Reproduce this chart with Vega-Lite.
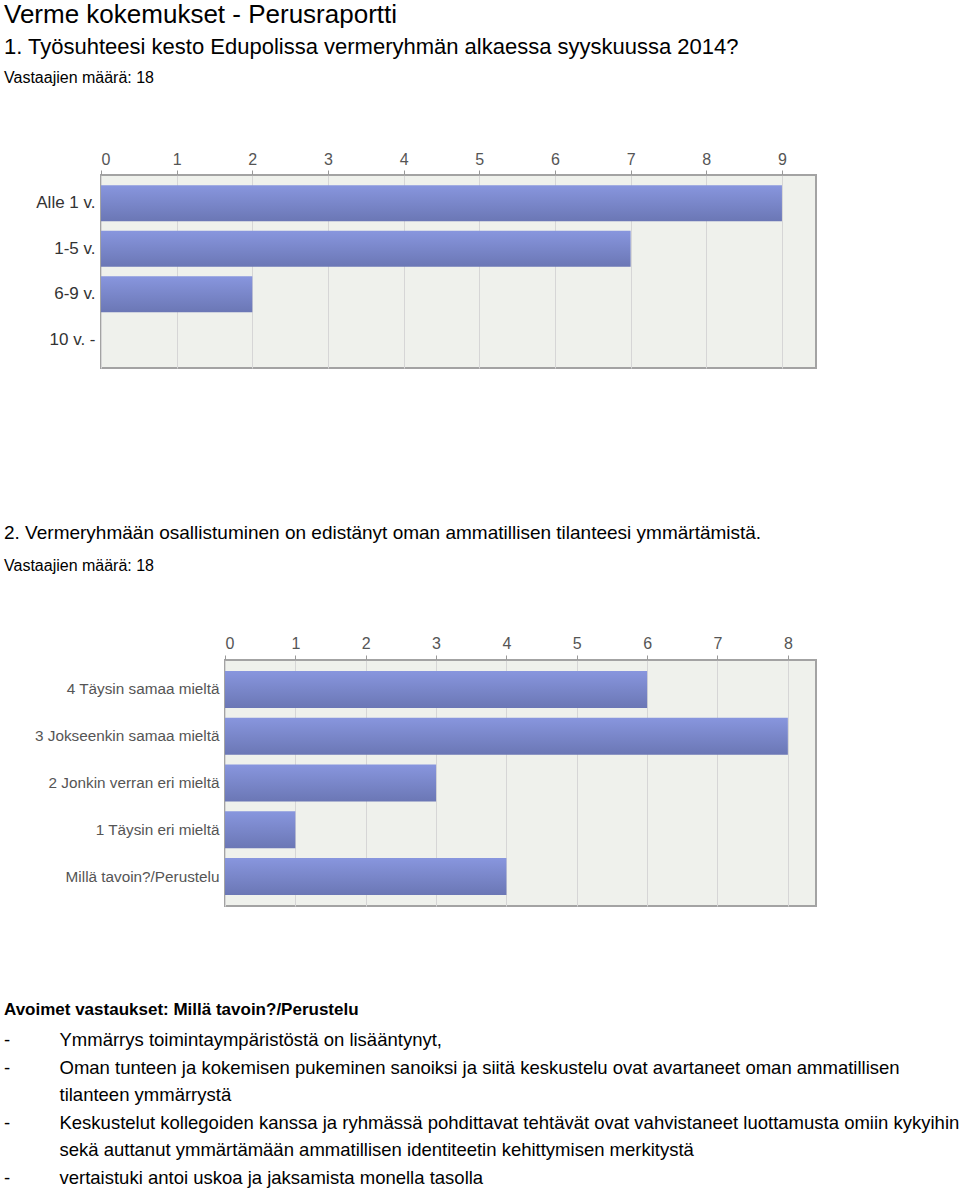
{
  "$schema": "https://vega.github.io/schema/vega-lite/v6.json",
  "background": "white",
  "padding": {"left": 3, "top": 2, "right": 0, "bottom": 0},
  "bounds": "flush",
  "spacing": 292,
  "title": {
    "text": "Verme kokemukset - Perusraportti",
    "anchor": "start",
    "frame": "group",
    "dx": -97,
    "fontSize": 26,
    "fontWeight": "normal",
    "color": "#000",
    "offset": 7
  },
  "config": {
    "font": "Liberation Sans",
    "view": {"stroke": "#a3a3a3", "strokeWidth": 2},
    "title": {"font": "Liberation Sans", "subtitleFont": "Liberation Sans", "color": "#000", "subtitleColor": "#000"},
    "axis": {"labelFont": "Liberation Sans"}
  },
  "vconcat": [
    {
      "width": 715,
      "height": 193,
      "title": {
        "text": "1. Työsuhteesi kesto Edupolissa vermeryhmän alkaessa syyskuussa 2014?",
        "subtitle": "Vastaajien määrä: 18",
        "anchor": "start",
        "frame": "group",
        "dx": -97,
        "fontSize": 22,
        "fontWeight": "normal",
        "subtitleFontSize": 16,
        "subtitlePadding": 11,
        "offset": 64
      },
      "view": {"fill": "#eff1ec", "stroke": "#a3a3a3", "strokeWidth": 2},
      "data": {"values": [
        {"vastaus": "Alle 1 v.", "lkm": 9},
        {"vastaus": "1-5 v.", "lkm": 7},
        {"vastaus": "6-9 v.", "lkm": 2},
        {"vastaus": "10 v. -", "lkm": 0}
      ]},
      "mark": {
        "type": "bar",
        "color": {"gradient": "linear", "x1": 0, "y1": 0, "x2": 0, "y2": 1,
          "stops": [{"offset": 0, "color": "#8896de"}, {"offset": 1, "color": "#6b77b5"}]}
      },
      "encoding": {
        "y": {
          "field": "vastaus", "type": "nominal", "sort": null,
          "scale": {"paddingInner": 0.21, "paddingOuter": 0.225},
          "axis": {"title": null, "ticks": false, "domain": false, "labelFontSize": 17, "labelColor": "#333", "labelPadding": 6, "labelLimit": 300}
        },
        "x": {
          "field": "lkm", "type": "quantitative",
          "scale": {"domain": [0, 9.45], "nice": false},
          "axis": {"orient": "top", "values": [0, 1, 2, 3, 4, 5, 6, 7, 8, 9], "title": null, "grid": true, "gridColor": "#d6d6d6", "domain": false, "tickColor": "#999", "tickSize": 5, "labelFontSize": 16, "labelColor": "#555", "labelPadding": 3}
        }
      }
    },
    {
      "bounds": "flush",
      "spacing": 20,
      "title": {
        "text": "Avoimet vastaukset: Millä tavoin?/Perustelu",
        "subtitle": [
          "-\u2003\u2003\u2002\u2006Ymmärrys toimintaympäristöstä on lisääntynyt,",
          "-\u2003\u2003\u2002\u2006Oman tunteen ja kokemisen pukeminen sanoiksi ja siitä keskustelu ovat avartaneet oman ammatillisen",
          "\u200B\u2003\u2003\u2003tilanteen ymmärrystä",
          "-\u2003\u2003\u2002\u2006Keskustelut kollegoiden kanssa ja ryhmässä pohdittavat tehtävät ovat vahvistaneet luottamusta omiin kykyihin",
          "\u200B\u2003\u2003\u2003sekä auttanut ymmärtämään ammatillisen identiteetin kehittymisen merkitystä",
          "-\u2003\u2003\u2002\u2006vertaistuki antoi uskoa ja jaksamista monella tasolla"
        ],
        "orient": "bottom",
        "anchor": "start",
        "frame": "group",
        "dx": -97,
        "fontSize": 17,
        "fontWeight": "bold",
        "subtitleFontSize": 18.5,
        "subtitleLineHeight": 27.6,
        "subtitlePadding": 12,
        "offset": 95
      },
      "hconcat": [
        {
          "width": 104,
          "height": 246,
          "view": {"stroke": null, "fill": null},
          "data": {"values": []},
          "mark": {"type": "point"},
          "encoding": {}
        },
        {
          "width": 591,
          "height": 246,
          "title": {
            "text": "2. Vermeryhmään osallistuminen on edistänyt oman ammatillisen tilanteesi ymmärtämistä.",
            "subtitle": "Vastaajien määrä: 18",
            "anchor": "start",
            "frame": "group",
            "dx": -221,
            "fontSize": 19,
            "fontWeight": "normal",
            "subtitleFontSize": 16,
            "subtitlePadding": 15,
            "offset": 61
          },
          "view": {"fill": "#eff1ec", "stroke": "#a3a3a3", "strokeWidth": 2},
          "data": {"values": [
            {"vastaus": "4 Täysin samaa mieltä", "lkm": 6},
            {"vastaus": "3 Jokseenkin samaa mieltä", "lkm": 8},
            {"vastaus": "2 Jonkin verran eri mieltä", "lkm": 3},
            {"vastaus": "1 Täysin eri mieltä", "lkm": 1},
            {"vastaus": "Millä tavoin?/Perustelu", "lkm": 4}
          ]},
          "mark": {
            "type": "bar",
            "color": {"gradient": "linear", "x1": 0, "y1": 0, "x2": 0, "y2": 1,
              "stops": [{"offset": 0, "color": "#8896de"}, {"offset": 1, "color": "#6b77b5"}]}
          },
          "encoding": {
            "y": {
              "field": "vastaus", "type": "nominal", "sort": null,
              "scale": {"paddingInner": 0.21, "paddingOuter": 0.235},
              "axis": {"title": null, "ticks": false, "domain": false, "labelFontSize": 15.3, "labelColor": "#555", "labelPadding": 6, "labelLimit": 300}
            },
            "x": {
              "field": "lkm", "type": "quantitative",
              "scale": {"domain": [0, 8.4], "nice": false},
              "axis": {"orient": "top", "values": [0, 1, 2, 3, 4, 5, 6, 7, 8], "title": null, "grid": true, "gridColor": "#d6d6d6", "domain": false, "tickColor": "#999", "tickSize": 5, "labelFontSize": 16, "labelColor": "#555", "labelPadding": 4}
            }
          }
        }
      ]
    }
  ]
}
